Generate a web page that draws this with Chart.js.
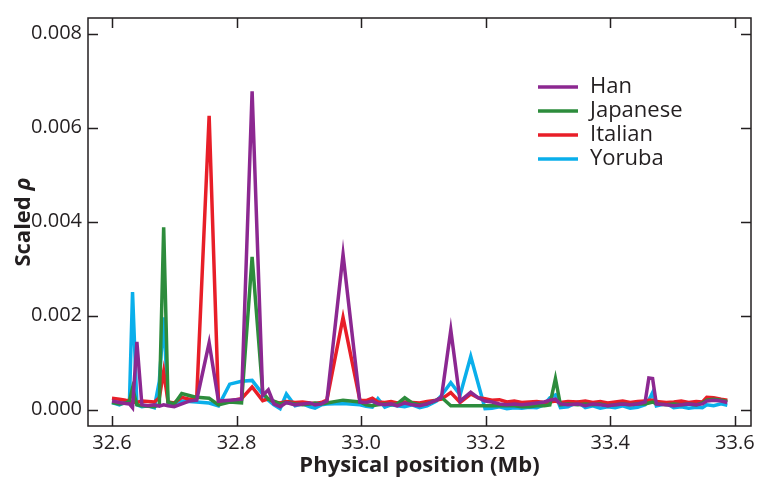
<!DOCTYPE html>
<html>
<head>
<meta charset="utf-8">
<script src="https://cdn.jsdelivr.net/npm/chart.js@4.4.1/dist/chart.umd.min.js"></script>
<style>
  body { margin: 0; background: #fff; }
  #wrap { width: 762px; height: 487px; position: relative; }
</style>
</head>
<body>
<div id="wrap"><canvas id="myChart"></canvas></div>
<script>
// SNP positions (Mb)
const positions = [
  32.600, 32.612, 32.622, 32.628, 32.633, 32.640, 32.648, 32.658, 32.668, 32.676,
  32.683, 32.690, 32.700, 32.712, 32.724, 32.736, 32.756, 32.771, 32.789, 32.808,
  32.825, 32.842, 32.851, 32.860, 32.870, 32.880, 32.894, 32.906, 32.918, 32.926,
  32.936, 32.945, 32.971, 32.998, 33.008, 33.018, 33.027, 33.038, 33.048, 33.058,
  33.070, 33.082, 33.094, 33.106, 33.121, 33.129, 33.144, 33.159, 33.176, 33.188,
  33.199, 33.210, 33.222, 33.234, 33.246, 33.258, 33.270, 33.282, 33.294, 33.303,
  33.312, 33.320, 33.332, 33.348, 33.360, 33.372, 33.384, 33.396, 33.408, 33.420,
  33.432, 33.444, 33.456, 33.462, 33.468, 33.474, 33.490, 33.502, 33.514, 33.526,
  33.538, 33.548, 33.555, 33.566, 33.578, 33.588
];

const han = [
  .00018, .00015, .00013, .00012, .00004, .00144, .00010, .00008, .00010, .00007,
  .00010, .00008, .00006, .00012, .00018, .00020, .00142, .00018, .00020, .00022,
  .00677, .00030, .00042, .00012, .00006, .00015, .00010, .00012, .00014, .00010,
  .00012, .00018, .00330, .00016, .00015, .00018, .00012, .00010, .00012, .00008,
  .00014, .00010, .00008, .00012, .00020, .00026, .00169, .00018, .00037, .00025,
  .00018, .00016, .00012, .00010, .00012, .00010, .00012, .00014, .00016, .00020,
  .00022, .00012, .00010, .00012, .00008, .00012, .00010, .00008, .00010, .00012,
  .00010, .00012, .00016, .00067, .00066, .00012, .00010, .00008, .00010, .00012,
  .00010, .00012, .00018, .00020, .00018, .00015
];

const japanese = [
  .00015, .00012, .00014, .00018, .00046, .00010, .00008, .00007, .00006, .00010,
  .00388, .00016, .00012, .00034, .00030, .00026, .00024, .00010, .00016, .00014,
  .00325, .00036, .00022, .00018, .00012, .00015, .00012, .00010, .00012, .00014,
  .00012, .00014, .00020, .00016, .00010, .00008, .00010, .00012, .00010, .00012,
  .00025, .00014, .00010, .00012, .00020, .00026, .00008, .00008, .00008, .00008,
  .00008, .00008, .00008, .00008, .00008, .00006, .00006, .00008, .00008, .00010,
  .00066, .00010, .00012, .00010, .00012, .00010, .00012, .00008, .00010, .00012,
  .00010, .00012, .00012, .00014, .00016, .00012, .00010, .00012, .00010, .00012,
  .00010, .00014, .00020, .00022, .00020, .00017
];

const italian = [
  .00024, .00022, .00020, .00019, .00016, .00015, .00018, .00017, .00016, .00025,
  .00081, .00016, .00014, .00026, .00022, .00024, .00625, .00015, .00018, .00023,
  .00048, .00019, .00023, .00016, .00014, .00017, .00015, .00016, .00014, .00013,
  .00015, .00020, .00196, .00020, .00019, .00024, .00016, .00015, .00017, .00014,
  .00016, .00015, .00014, .00017, .00020, .00022, .00036, .00015, .00033, .00025,
  .00023, .00020, .00021, .00016, .00018, .00015, .00016, .00017, .00015, .00016,
  .00018, .00015, .00017, .00016, .00018, .00015, .00017, .00014, .00016, .00018,
  .00015, .00017, .00018, .00020, .00020, .00017, .00015, .00016, .00018, .00015,
  .00017, .00016, .00026, .00025, .00022, .00020
];

const yoruba = [
  .00015, .00010, .00016, .00014, .00250, .00010, .00006, .00008, .00004, .00060,
  .00196, .00010, .00008, .00018, .00017, .00016, .00014, .00008, .00054, .00060,
  .00062, .00033, .00020, .00010, .00002, .00033, .00008, .00012, .00006, .00003,
  .00010, .00012, .00013, .00010, .00007, .00005, .00023, .00005, .00010, .00008,
  .00006, .00010, .00004, .00008, .00018, .00030, .00057, .00031, .00113, .00055,
  .00002, .00003, .00006, .00002, .00004, .00003, .00005, .00004, .00010, .00025,
  .00031, .00004, .00006, .00016, .00004, .00008, .00003, .00006, .00004, .00008,
  .00003, .00005, .00010, .00020, .00036, .00008, .00013, .00004, .00006, .00003,
  .00005, .00004, .00010, .00008, .00012, .00009
];

const seriesNames = ['Han', 'Japanese', 'Italian', 'Yoruba'];
const seriesColors = ['rgb(140, 40, 145)', 'rgb(45, 140, 60)', 'rgb(232, 30, 40)', 'rgb(10, 175, 235)'];
const seriesValues = [han, japanese, italian, yoruba];

const FONT = '"Open Sans", "Noto Sans", sans-serif';
const INK = '#231f20';

const datasets = seriesValues.map(function (vals, i) {
  return {
    label: seriesNames[i],
    data: positions.map(function (p, j) { return { x: p, y: vals[j] }; }),
    borderColor: seriesColors[i],
    backgroundColor: seriesColors[i],
    borderWidth: 3.5,
    pointRadius: 0,
    tension: 0
  };
});

// frame with inward ticks, legend and axis titles
const framePlugin = {
  id: 'frame',
  afterDraw(chart) {
    const ctx = chart.ctx;
    const a = chart.chartArea;
    const x = chart.scales.x;
    const y = chart.scales.y;
    const len = 10;
    ctx.save();
    ctx.strokeStyle = INK;
    ctx.lineWidth = 1.5;
    ctx.strokeRect(a.left, a.top, a.right - a.left, a.bottom - a.top);
    ctx.beginPath();
    x.ticks.forEach(function (t) {
      const px = Math.round(x.getPixelForValue(t.value)) + 0.5;
      ctx.moveTo(px, a.bottom); ctx.lineTo(px, a.bottom - len);
      ctx.moveTo(px, a.top); ctx.lineTo(px, a.top + len);
    });
    y.ticks.forEach(function (t) {
      const py = Math.round(y.getPixelForValue(t.value)) + 0.5;
      ctx.moveTo(a.left, py); ctx.lineTo(a.left + len, py);
      ctx.moveTo(a.right, py); ctx.lineTo(a.right - len, py);
    });
    ctx.stroke();

    // legend
    ctx.font = '22px ' + FONT;
    ctx.textBaseline = 'middle';
    ctx.textAlign = 'left';
    chart.data.datasets.forEach(function (ds, i) {
      const ly = 87 + i * 24;
      ctx.strokeStyle = ds.borderColor;
      ctx.lineWidth = 3.5;
      ctx.beginPath();
      ctx.moveTo(538, ly); ctx.lineTo(578, ly);
      ctx.stroke();
      ctx.fillStyle = INK;
      ctx.fillText(ds.label, 590, ly);
    });

    // x title
    ctx.fillStyle = INK;
    ctx.font = 'bold 22px ' + FONT;
    ctx.textAlign = 'center';
    ctx.fillText('Physical position (Mb)', (a.left + a.right) / 2, 466);

    // y title
    ctx.translate(24, (a.top + a.bottom) / 2);
    ctx.rotate(-Math.PI / 2);
    const t1 = 'Scaled ';
    const t2 = '\u03c1';
    ctx.font = 'bold 22px ' + FONT;
    const w1 = ctx.measureText(t1).width;
    ctx.font = 'italic bold 22px ' + FONT;
    const w2 = ctx.measureText(t2).width;
    ctx.textAlign = 'left';
    ctx.font = 'bold 22px ' + FONT;
    ctx.fillText(t1, -(w1 + w2) / 2, 0);
    ctx.font = 'italic bold 22px ' + FONT;
    ctx.fillText(t2, -(w1 + w2) / 2 + w1, 0);
    ctx.restore();
  }
};

const config = {
  type: 'line',
  data: { datasets: datasets },
  options: {
    responsive: true,
    maintainAspectRatio: false,
    animation: false,
    layout: { padding: { top: 9, right: 11, left: 0, bottom: 0 } },
    plugins: {
      legend: { display: false },
      tooltip: { enabled: false }
    },
    scales: {
      x: {
        type: 'linear',
        min: 32.5615,
        max: 33.626,
        afterFit: function (s) { s.height = 61; },
        grid: { drawOnChartArea: false, drawTicks: false },
        border: { display: false },
        ticks: {
          stepSize: 0.2,
          includeBounds: false,
          padding: 5,
          color: INK,
          font: { family: FONT, size: 20 },
          maxRotation: 0,
          callback: function (v) { return v.toFixed(1); }
        }
      },
      y: {
        min: -0.00035,
        max: 0.00833,
        afterFit: function (s) { s.width = 88; },
        grid: { drawOnChartArea: false, drawTicks: false },
        border: { display: false },
        ticks: {
          stepSize: 0.002,
          includeBounds: false,
          padding: 6,
          color: INK,
          font: { family: FONT, size: 20 },
          callback: function (v) { return v.toFixed(3); }
        }
      }
    }
  },
  plugins: [framePlugin]
};

new Chart(document.getElementById('myChart'), config);
</script>
</body>
</html>
